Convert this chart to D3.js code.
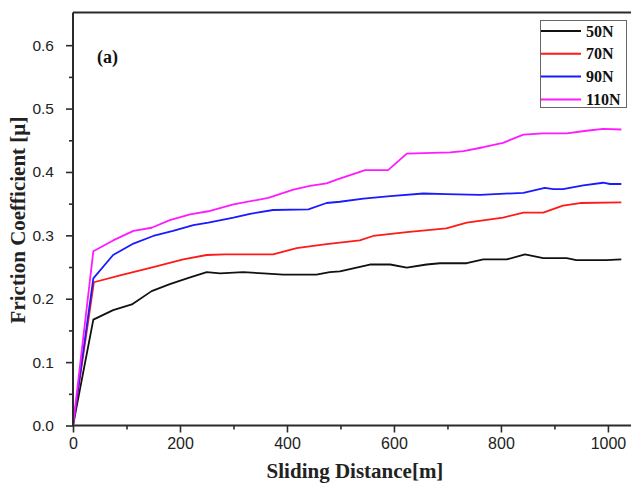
<!DOCTYPE html>
<html>
<head>
<meta charset="utf-8">
<script src="https://cdn.jsdelivr.net/npm/d3@7"></script>
<style>
  html, body { margin: 0; padding: 0; background: #fff; }
  svg { display: block; }
</style>
</head>
<body>
<svg id="chart" width="631" height="483"></svg>
<script>
// Friction coefficient vs sliding distance for four normal loads
const seriesNames = ["50N", "70N", "90N", "110N"];
const seriesColors = ["#111111", "#ff1a1a", "#1a1aff", "#ff1aff"];

const dist50 = [0, 38, 75, 110, 147, 181, 216, 250, 275, 318, 356, 393, 455, 480, 499, 555, 593, 624, 661, 686, 736, 767, 811, 845, 879, 923, 941, 997, 1025];
const mu50   = [0, 0.167, 0.182, 0.191, 0.212, 0.223, 0.233, 0.242, 0.240, 0.242, 0.240, 0.238, 0.238, 0.242, 0.243, 0.254, 0.254, 0.249, 0.254, 0.256, 0.256, 0.262, 0.262, 0.270, 0.264, 0.264, 0.261, 0.261, 0.262];

const dist70 = [0, 39, 88, 150, 206, 250, 284, 374, 418, 474, 536, 561, 624, 698, 736, 804, 842, 879, 916, 948, 1025];
const mu70   = [0, 0.226, 0.237, 0.250, 0.262, 0.269, 0.270, 0.270, 0.280, 0.286, 0.292, 0.299, 0.305, 0.311, 0.320, 0.328, 0.336, 0.336, 0.347, 0.351, 0.352];

const dist90 = [0, 38, 75, 113, 150, 187, 225, 253, 300, 331, 374, 440, 474, 499, 543, 593, 655, 698, 761, 842, 882, 898, 916, 954, 991, 1004, 1025];
const mu90   = [0, 0.232, 0.269, 0.287, 0.299, 0.307, 0.316, 0.320, 0.328, 0.334, 0.340, 0.341, 0.351, 0.353, 0.358, 0.362, 0.366, 0.365, 0.364, 0.367, 0.375, 0.373, 0.373, 0.379, 0.383, 0.381, 0.381];

const dist110 = [0, 38, 75, 113, 147, 181, 219, 253, 300, 365, 412, 443, 474, 493, 546, 589, 624, 705, 730, 767, 804, 842, 879, 923, 960, 991, 1025];
const mu110   = [0, 0.275, 0.292, 0.307, 0.312, 0.324, 0.333, 0.338, 0.349, 0.359, 0.372, 0.378, 0.382, 0.388, 0.403, 0.403, 0.429, 0.431, 0.433, 0.439, 0.446, 0.459, 0.461, 0.461, 0.465, 0.468, 0.467];

const xTicks = [0, 200, 400, 600, 800, 1000];
const xMinorTicks = [100, 300, 500, 700, 900];
const yTicks = [0.0, 0.1, 0.2, 0.3, 0.4, 0.5, 0.6];
const yMinorTicks = [0.05, 0.15, 0.25, 0.35, 0.45, 0.55];

const xTitle = "Sliding Distance[m]";
const yTitle = "Friction Coefficient [\u00b5]";
const panelLabel = "(a)";

const series = [
  { name: seriesNames[0], color: seriesColors[0], dist: dist50, mu: mu50 },
  { name: seriesNames[1], color: seriesColors[1], dist: dist70, mu: mu70 },
  { name: seriesNames[2], color: seriesColors[2], dist: dist90, mu: mu90 },
  { name: seriesNames[3], color: seriesColors[3], dist: dist110, mu: mu110 }
];

const svg = d3.select("#chart");
const plotLeft = 73, plotBottom = 425.5, plotTop = 13.5;

const x = d3.scaleLinear().domain([0, 1045]).range([plotLeft, 632]);
const y = d3.scaleLinear().domain([0, 0.65]).range([plotBottom, plotTop]);

const serif = "'Liberation Serif', 'Times New Roman', serif";
const sans = "'Liberation Sans', Arial, sans-serif";
const axisColor = "#2b2b2b";

// curves
const line = d3.line().x(d => x(d[0])).y(d => y(d[1]));
series.forEach(s => {
  svg.append("path")
    .datum(s.dist.map((d, i) => [d, s.mu[i]]))
    .attr("d", line)
    .attr("fill", "none")
    .attr("stroke", s.color)
    .attr("stroke-width", 1.8)
    .attr("stroke-linejoin", "round");
});

// x axis
const xAxis = svg.append("g").attr("transform", `translate(0,${plotBottom})`)
  .call(d3.axisBottom(x).tickValues(xTicks).tickSize(7).tickPadding(5).tickFormat(d3.format("d")));
xAxis.selectAll(".tick text").attr("font-family", sans).attr("font-size", 16).attr("fill", "#222");
svg.append("g").attr("transform", `translate(0,${plotBottom})`)
  .call(d3.axisBottom(x).tickValues(xMinorTicks).tickSize(4).tickFormat(""));

// y axis
const yAxis = svg.append("g").attr("transform", `translate(${plotLeft},0)`)
  .call(d3.axisLeft(y).tickValues(yTicks).tickSize(7).tickPadding(12).tickFormat(d3.format(".1f")));
yAxis.selectAll(".tick text").attr("font-family", sans).attr("font-size", 15.5).attr("fill", "#222");
svg.append("g").attr("transform", `translate(${plotLeft},0)`)
  .call(d3.axisLeft(y).tickValues(yMinorTicks).tickSize(4).tickFormat(""));

svg.selectAll(".tick line").attr("stroke", axisColor).attr("stroke-width", 1.6);
svg.selectAll(".domain").remove();

// axis lines and top border
svg.append("line").attr("x1", plotLeft).attr("x2", 631).attr("y1", plotBottom).attr("y2", plotBottom)
  .attr("stroke", axisColor).attr("stroke-width", 2);
svg.append("line").attr("x1", plotLeft).attr("x2", plotLeft).attr("y1", plotTop - 1).attr("y2", plotBottom + 1)
  .attr("stroke", axisColor).attr("stroke-width", 2);
svg.append("line").attr("x1", plotLeft).attr("x2", 631).attr("y1", plotTop - 1).attr("y2", plotTop - 1)
  .attr("stroke", axisColor).attr("stroke-width", 2);

// axis titles
svg.append("text")
  .attr("x", 355).attr("y", 478)
  .attr("text-anchor", "middle")
  .attr("font-family", serif).attr("font-weight", "bold").attr("font-size", 21)
  .attr("fill", "#222")
  .text(xTitle);

svg.append("text")
  .attr("transform", "translate(25,220) rotate(-90)")
  .attr("text-anchor", "middle")
  .attr("font-family", serif).attr("font-weight", "bold").attr("font-size", 21)
  .attr("fill", "#222")
  .text(yTitle);

// panel label
svg.append("text")
  .attr("x", 97).attr("y", 63)
  .attr("font-family", serif).attr("font-weight", "bold").attr("font-size", 18)
  .attr("fill", "#111")
  .text(panelLabel);

// legend
const lg = svg.append("g");
lg.append("rect")
  .attr("x", 540.5).attr("y", 20.5).attr("width", 86).attr("height", 87)
  .attr("fill", "#fff").attr("stroke", "#666").attr("stroke-width", 1);
series.forEach((s, i) => {
  const ly = 31 + i * 22.8;
  lg.append("line")
    .attr("x1", 541).attr("x2", 581).attr("y1", ly).attr("y2", ly)
    .attr("stroke", s.color).attr("stroke-width", 2);
  lg.append("text")
    .attr("x", 586).attr("y", ly + 5.5)
    .attr("font-family", serif).attr("font-weight", "bold").attr("font-size", 16)
    .attr("fill", "#111")
    .text(s.name);
});
</script>
</body>
</html>
